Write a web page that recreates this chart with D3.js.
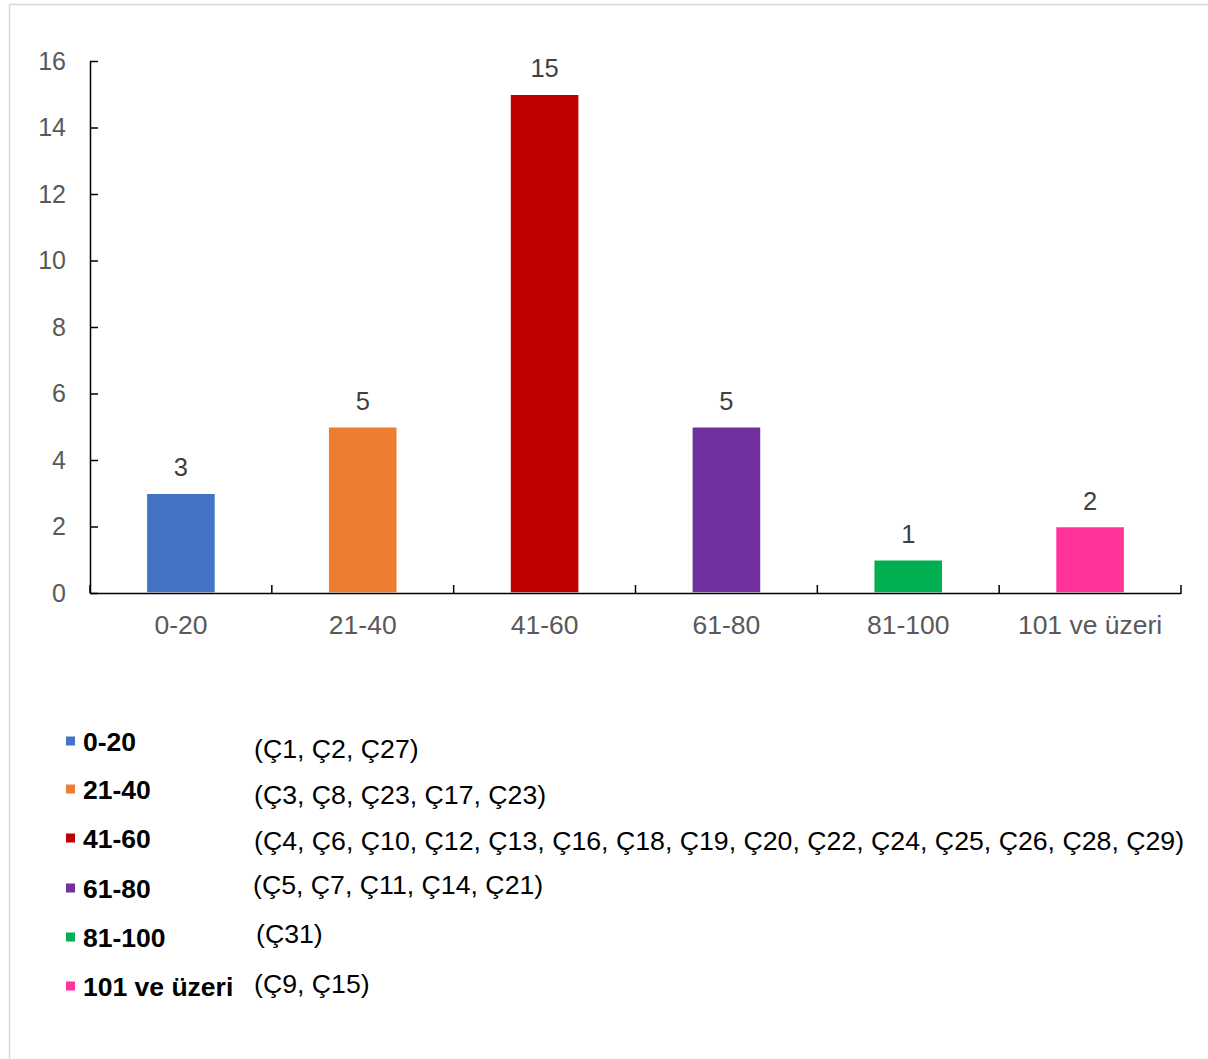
<!DOCTYPE html>
<html>
<head>
<meta charset="utf-8">
<script src="https://cdn.jsdelivr.net/npm/d3@7"></script>
<style>
  html, body { margin: 0; padding: 0; background: #fff; }
  svg { display: block; }
</style>
</head>
<body>
<script>
const categories = ["0-20", "21-40", "41-60", "61-80", "81-100", "101 ve üzeri"];
const values = [3, 5, 15, 5, 1, 2];
const colors = ["#4472C4", "#ED7D31", "#C00000", "#7030A0", "#00B050", "#FF3399"];
const yTicks = [0, 2, 4, 6, 8, 10, 12, 14, 16];
const legendNotes = [
  "(Ç1, Ç2, Ç27)",
  "(Ç3, Ç8, Ç23, Ç17, Ç23)",
  "(Ç4, Ç6, Ç10, Ç12, Ç13, Ç16, Ç18, Ç19, Ç20, Ç22, Ç24, Ç25, Ç26, Ç28, Ç29)",
  "(Ç5, Ç7, Ç11, Ç14, Ç21)",
  "(Ç31)",
  "(Ç9, Ç15)"
];

const W = 1208, H = 1059;
const svg = d3.select("body").append("svg").attr("width", W).attr("height", H);
const font = "'Liberation Sans', Arial, sans-serif";

// outer frame
svg.append("rect").attr("x", 9.5).attr("y", 4.5).attr("width", 1240).attr("height", 1120)
  .attr("fill", "none").attr("stroke", "#d9d9d9").attr("stroke-width", 1.5);

const x0 = 90, x1 = 1181, yTop = 61, yBot = 593;
const x = d3.scaleBand().domain(categories).range([x0, x1]).paddingInner(0.62).paddingOuter(0.31);
const y = d3.scaleLinear().domain([0, 16]).range([yBot, yTop]);

// bars
svg.append("g").selectAll("rect").data(values).join("rect")
  .attr("x", (d, i) => x(categories[i]))
  .attr("y", d => y(d))
  .attr("width", x.bandwidth())
  .attr("height", d => y(0) - y(d))
  .attr("fill", (d, i) => colors[i])
  .attr("stroke", "#fff").attr("stroke-width", 1.5);

// value labels
svg.append("g").selectAll("text").data(values).join("text")
  .attr("x", (d, i) => x(categories[i]) + x.bandwidth() / 2)
  .attr("y", d => y(d) - 17)
  .attr("text-anchor", "middle")
  .attr("font-family", font).attr("font-size", 25.5).attr("fill", "#404040")
  .text(d => d);

// y axis
const yAxis = svg.append("g").attr("transform", `translate(${x0},0)`)
  .call(d3.axisLeft(y).tickValues(yTicks).tickSizeInner(-8).tickSizeOuter(0).tickPadding(24));
yAxis.select(".domain").attr("stroke", "#000").attr("stroke-width", 1.5);
yAxis.selectAll(".tick line").attr("stroke", "#000").attr("stroke-width", 1.5);
yAxis.selectAll(".tick text").attr("font-family", font).attr("font-size", 25).attr("fill", "#595959")
  .attr("x", -24);

// x axis
const xAxis = svg.append("g").attr("transform", `translate(0,${yBot})`)
  .call(d3.axisBottom(x).tickSize(0).tickPadding(20));
xAxis.select(".domain").attr("stroke", "#000").attr("stroke-width", 1.5);
xAxis.selectAll(".tick text").attr("font-family", font).attr("font-size", 26.5).attr("fill", "#595959")
  .attr("dy", "0.71em").attr("y", 22);
// category boundary ticks
const bounds = categories.map(c => x(c) - x.step() * x.paddingInner() / 2).concat([x1]);
svg.append("g").selectAll("line").data(bounds).join("line")
  .attr("x1", d => d).attr("x2", d => d)
  .attr("y1", yBot).attr("y2", yBot - 8)
  .attr("stroke", "#000").attr("stroke-width", 1.5);

// legend
const rowBase = [751, 799, 848, 898, 947, 996];
const noteBase = [758, 804, 850, 894, 943, 993];
const noteX = [254, 254, 254, 253, 256, 254];
const leg = svg.append("g");
categories.forEach((c, i) => {
  leg.append("rect").attr("x", 66).attr("y", rowBase[i] - 14.5).attr("width", 9).attr("height", 9)
    .attr("fill", colors[i]);
  leg.append("text").attr("x", 83).attr("y", rowBase[i])
    .attr("font-family", font).attr("font-size", 26.5).attr("font-weight", "bold").attr("fill", "#000")
    .text(c);
  leg.append("text").attr("x", noteX[i]).attr("y", noteBase[i])
    .attr("font-family", font).attr("font-size", 26.7).attr("fill", "#000")
    .text(legendNotes[i]);
});
</script>
</body>
</html>
